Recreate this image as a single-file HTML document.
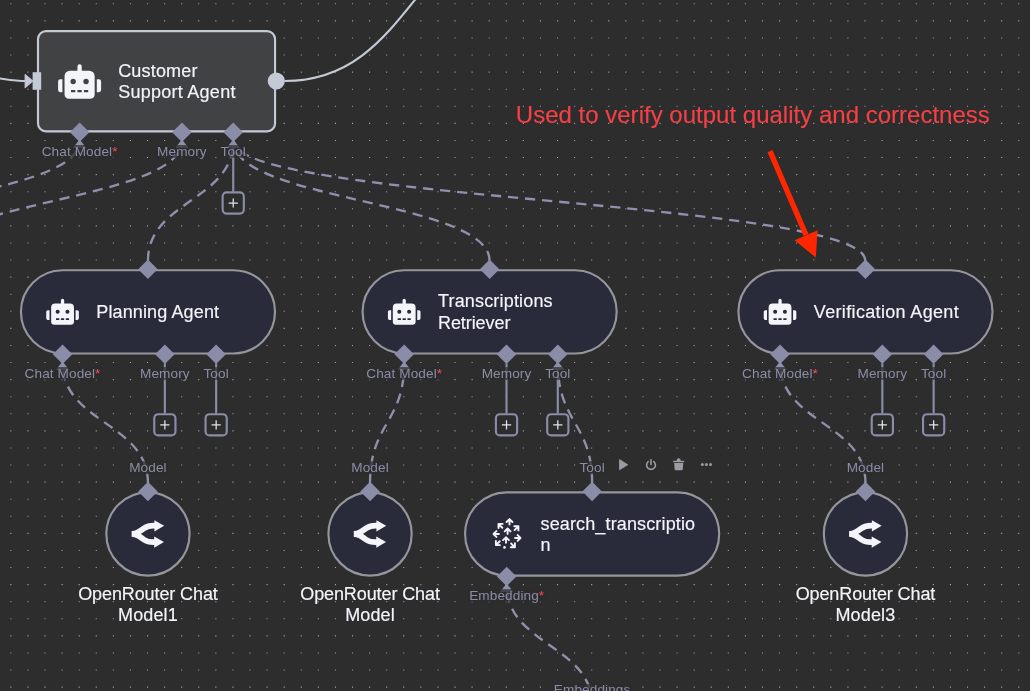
<!DOCTYPE html>
<html lang="en"><head><meta charset="utf-8"><title>Customer Support Agent workflow</title>
<style>
html,body{margin:0;padding:0;background:#2d2d2e;}
body{width:1030px;height:691px;overflow:hidden;}
svg{display:block;font-family:"Liberation Sans", sans-serif;}
</style></head><body>
<svg width="1030" height="691" viewBox="0 0 1030 691">
<defs><filter id="aa" filterUnits="userSpaceOnUse" x="0" y="0" width="1030" height="691" color-interpolation-filters="sRGB"><feOffset dx="0" dy="0"/></filter></defs>
<rect width="1030" height="691" fill="#2d2d2e"/>
<path stroke="#a3a4aa" stroke-width="1.1" stroke-dasharray="1.1 15.983" fill="none" d="M10.31 3.80H1030M10.31 20.88H1030M10.31 37.97H1030M10.31 55.05H1030M10.31 72.13H1030M10.31 89.21H1030M10.31 106.30H1030M10.31 123.38H1030M10.31 140.46H1030M10.31 157.55H1030M10.31 174.63H1030M10.31 191.71H1030M10.31 208.80H1030M10.31 225.88H1030M10.31 242.96H1030M10.31 260.05H1030M10.31 277.13H1030M10.31 294.21H1030M10.31 311.29H1030M10.31 328.38H1030M10.31 345.46H1030M10.31 362.54H1030M10.31 379.63H1030M10.31 396.71H1030M10.31 413.79H1030M10.31 430.87H1030M10.31 447.96H1030M10.31 465.04H1030M10.31 482.12H1030M10.31 499.21H1030M10.31 516.29H1030M10.31 533.37H1030M10.31 550.46H1030M10.31 567.54H1030M10.31 584.62H1030M10.31 601.70H1030M10.31 618.79H1030M10.31 635.87H1030M10.31 652.95H1030M10.31 670.04H1030M10.31 687.12H1030"/>

<path d="M-20 76.5C0 77.5 10 81 26 81" fill="none" stroke="#c3c9d5" stroke-width="2.14"/>
<path d="M284.5 81C415.15 81 415.15 -81.7 545.8 -81.7" fill="none" stroke="#c3c9d5" stroke-width="2.14"/>
<path d="M-210.78 260.86C-210.78 200.83 79.63 200.83 79.63 140.80" fill="none" stroke="#8f90ab" stroke-width="2.35" stroke-dasharray="10.2 6.883" stroke-dashoffset="0"/>
<path d="M-74.11 260.86C-74.11 200.83 181.93 200.83 181.93 140.80" fill="none" stroke="#8f90ab" stroke-width="2.35" stroke-dasharray="10.2 6.883" stroke-dashoffset="0"/>
<path d="M147.95 260.86C147.95 200.83 233.23 200.83 233.23 140.80" fill="none" stroke="#8f90ab" stroke-width="2.35" stroke-dasharray="10.2 6.883" stroke-dashoffset="0"/>
<path d="M489.61 260.86C489.61 200.83 233.23 200.83 233.23 140.80" fill="none" stroke="#8f90ab" stroke-width="2.35" stroke-dasharray="10.2 6.883" stroke-dashoffset="0"/>
<path d="M865.44 260.86C865.44 200.83 233.23 200.83 233.23 140.80" fill="none" stroke="#8f90ab" stroke-width="2.35" stroke-dasharray="10.2 6.883" stroke-dashoffset="0"/>
<path d="M147.96 482.94C147.96 422.90 62.55 422.90 62.55 362.86" fill="none" stroke="#8f90ab" stroke-width="2.35" stroke-dasharray="10.2 6.883" stroke-dashoffset="0"/>
<path d="M370.04 482.94C370.04 422.90 404.21 422.90 404.21 362.86" fill="none" stroke="#8f90ab" stroke-width="2.35" stroke-dasharray="10.2 6.883" stroke-dashoffset="0"/>
<path d="M592.11 482.94C592.11 422.90 557.81 422.90 557.81 362.86" fill="none" stroke="#8f90ab" stroke-width="2.35" stroke-dasharray="10.2 6.883" stroke-dashoffset="0"/>
<path d="M865.45 482.94C865.45 422.90 780.04 422.90 780.04 362.86" fill="none" stroke="#8f90ab" stroke-width="2.35" stroke-dasharray="10.2 6.883" stroke-dashoffset="0"/>
<path d="M592.12 705.02C592.12 644.98 506.71 644.98 506.71 584.94" fill="none" stroke="#8f90ab" stroke-width="2.35" stroke-dasharray="10.2 6.883" stroke-dashoffset="0"/>
<rect x="38.00" y="31.07" width="237.06" height="100.36" rx="8" fill="#414244" stroke="#c3c9d5" stroke-width="2.14"/>
<path d="M25.2 74.6L32.6 81L25.2 87.6Z" fill="#c3c9d5" stroke="#c3c9d5" stroke-width="1.2" stroke-linejoin="round"/>
<rect x="32.6" y="72.2" width="8.6" height="17.6" fill="#c3c9d5"/>
<circle cx="276.3" cy="81" r="8.6" fill="#c3c9d5"/>
<path transform="translate(58.10 64.30) scale(0.06719)" d="M32,224H64V416H32A31.96166,31.96166,0,0,1,0,384V256A31.96166,31.96166,0,0,1,32,224Zm512-48V448a64.06328,64.06328,0,0,1-64,64H160a64.06328,64.06328,0,0,1-64-64V176a79.974,79.974,0,0,1,80-80H288V32a32,32,0,0,1,64,0V96H464A79.974,79.974,0,0,1,544,176ZM264,256a40,40,0,1,0-40,40A39.997,39.997,0,0,0,264,256Zm-8,128H192v32h64Zm96,0H288v32h64ZM456,256a40,40,0,1,0-40,40A39.997,39.997,0,0,0,456,256Zm-8,128H384v32h64ZM640,256V384a31.96166,31.96166,0,0,1-32,32H576V224h32A31.96166,31.96166,0,0,1,640,256Z" fill="#f4f5fb"/>
<path d="M79.63 122.50L89.38 132.25L79.63 142.00L69.88 132.25Z" fill="#8b8ca8"/>
<path d="M79.63 139.45L86.23 147.65H73.03Z" fill="#8f90ab"/>
<path d="M181.93 122.50L191.68 132.25L181.93 142.00L172.18 132.25Z" fill="#8b8ca8"/>
<path d="M181.93 139.45L188.53 147.65H175.33Z" fill="#8f90ab"/>
<path d="M233.23 122.50L242.98 132.25L233.23 142.00L223.48 132.25Z" fill="#8b8ca8"/>
<path d="M233.23 139.45L239.83 147.65H226.63Z" fill="#8f90ab"/>
<path d="M233.23 141.25V191.40" stroke="#8b8ca8" stroke-width="2.14" fill="none"/>
<rect x="222.63" y="192.40" width="21.2" height="21.2" rx="4" fill="#2d2d2e" stroke="#8b8ca8" stroke-width="2.14"/>
<path d="M228.63 203.00H237.83M233.23 198.40V207.60" stroke="#e4e5ec" stroke-width="1.25" fill="none"/>
<rect x="40.63" y="145.00" width="78.00" height="12.8" fill="#2d2d2e" fill-opacity="0.72"/>
<rect x="155.68" y="145.00" width="52.50" height="12.8" fill="#2d2d2e" fill-opacity="0.72"/>
<rect x="219.23" y="145.00" width="28.00" height="12.8" fill="#2d2d2e" fill-opacity="0.72"/>
<rect x="20.92" y="270.23" width="254.11" height="83.26" rx="41.63" fill="#292b3a" stroke="#95969c" stroke-width="2.14"/>
<path transform="translate(46.25 298.72) scale(0.05094)" d="M32,224H64V416H32A31.96166,31.96166,0,0,1,0,384V256A31.96166,31.96166,0,0,1,32,224Zm512-48V448a64.06328,64.06328,0,0,1-64,64H160a64.06328,64.06328,0,0,1-64-64V176a79.974,79.974,0,0,1,80-80H288V32a32,32,0,0,1,64,0V96H464A79.974,79.974,0,0,1,544,176ZM264,256a40,40,0,1,0-40,40A39.997,39.997,0,0,0,264,256Zm-8,128H192v32h64Zm96,0H288v32h64ZM456,256a40,40,0,1,0-40,40A39.997,39.997,0,0,0,456,256Zm-8,128H384v32h64ZM640,256V384a31.96166,31.96166,0,0,1-32,32H576V224h32A31.96166,31.96166,0,0,1,640,256Z" fill="#f4f5fb"/>
<path d="M147.95 259.61L157.70 269.36L147.95 279.11L138.20 269.36Z" fill="#8b8ca8"/>
<path d="M62.55 344.56L72.30 354.31L62.55 364.06L52.80 354.31Z" fill="#8b8ca8"/>
<path d="M164.85 344.56L174.60 354.31L164.85 364.06L155.10 354.31Z" fill="#8b8ca8"/>
<path d="M216.15 344.56L225.90 354.31L216.15 364.06L206.40 354.31Z" fill="#8b8ca8"/>
<path d="M62.55 361.51L69.15 369.71H55.95Z" fill="#8f90ab"/>
<path d="M164.85 363.31V413.20" stroke="#8b8ca8" stroke-width="2.14" fill="none"/>
<rect x="154.25" y="414.20" width="21.2" height="21.2" rx="4" fill="#2d2d2e" stroke="#8b8ca8" stroke-width="2.14"/>
<path d="M160.25 424.80H169.45M164.85 420.20V429.40" stroke="#e4e5ec" stroke-width="1.25" fill="none"/>
<path d="M216.15 363.31V413.20" stroke="#8b8ca8" stroke-width="2.14" fill="none"/>
<rect x="205.55" y="414.20" width="21.2" height="21.2" rx="4" fill="#2d2d2e" stroke="#8b8ca8" stroke-width="2.14"/>
<path d="M211.55 424.80H220.75M216.15 420.20V429.40" stroke="#e4e5ec" stroke-width="1.25" fill="none"/>
<rect x="23.55" y="367.06" width="78.00" height="12.8" fill="#2d2d2e" fill-opacity="0.72"/>
<rect x="138.60" y="367.06" width="52.50" height="12.8" fill="#2d2d2e" fill-opacity="0.72"/>
<rect x="202.15" y="367.06" width="28.00" height="12.8" fill="#2d2d2e" fill-opacity="0.72"/>
<rect x="362.58" y="270.23" width="254.11" height="83.26" rx="41.63" fill="#292b3a" stroke="#95969c" stroke-width="2.14"/>
<path transform="translate(387.91 298.72) scale(0.05094)" d="M32,224H64V416H32A31.96166,31.96166,0,0,1,0,384V256A31.96166,31.96166,0,0,1,32,224Zm512-48V448a64.06328,64.06328,0,0,1-64,64H160a64.06328,64.06328,0,0,1-64-64V176a79.974,79.974,0,0,1,80-80H288V32a32,32,0,0,1,64,0V96H464A79.974,79.974,0,0,1,544,176ZM264,256a40,40,0,1,0-40,40A39.997,39.997,0,0,0,264,256Zm-8,128H192v32h64Zm96,0H288v32h64ZM456,256a40,40,0,1,0-40,40A39.997,39.997,0,0,0,456,256Zm-8,128H384v32h64ZM640,256V384a31.96166,31.96166,0,0,1-32,32H576V224h32A31.96166,31.96166,0,0,1,640,256Z" fill="#f4f5fb"/>
<path d="M489.61 259.61L499.36 269.36L489.61 279.11L479.86 269.36Z" fill="#8b8ca8"/>
<path d="M404.21 344.56L413.96 354.31L404.21 364.06L394.46 354.31Z" fill="#8b8ca8"/>
<path d="M506.51 344.56L516.26 354.31L506.51 364.06L496.76 354.31Z" fill="#8b8ca8"/>
<path d="M557.81 344.56L567.56 354.31L557.81 364.06L548.06 354.31Z" fill="#8b8ca8"/>
<path d="M404.21 361.51L410.81 369.71H397.61Z" fill="#8f90ab"/>
<path d="M557.81 361.51L564.41 369.71H551.21Z" fill="#8f90ab"/>
<path d="M506.51 363.31V413.20" stroke="#8b8ca8" stroke-width="2.14" fill="none"/>
<rect x="495.91" y="414.20" width="21.2" height="21.2" rx="4" fill="#2d2d2e" stroke="#8b8ca8" stroke-width="2.14"/>
<path d="M501.91 424.80H511.11M506.51 420.20V429.40" stroke="#e4e5ec" stroke-width="1.25" fill="none"/>
<path d="M557.81 363.31V413.20" stroke="#8b8ca8" stroke-width="2.14" fill="none"/>
<rect x="547.21" y="414.20" width="21.2" height="21.2" rx="4" fill="#2d2d2e" stroke="#8b8ca8" stroke-width="2.14"/>
<path d="M553.21 424.80H562.41M557.81 420.20V429.40" stroke="#e4e5ec" stroke-width="1.25" fill="none"/>
<rect x="365.21" y="367.06" width="78.00" height="12.8" fill="#2d2d2e" fill-opacity="0.72"/>
<rect x="480.26" y="367.06" width="52.50" height="12.8" fill="#2d2d2e" fill-opacity="0.72"/>
<rect x="543.81" y="367.06" width="28.00" height="12.8" fill="#2d2d2e" fill-opacity="0.72"/>
<rect x="738.41" y="270.23" width="254.11" height="83.26" rx="41.63" fill="#292b3a" stroke="#95969c" stroke-width="2.14"/>
<path transform="translate(763.74 298.72) scale(0.05094)" d="M32,224H64V416H32A31.96166,31.96166,0,0,1,0,384V256A31.96166,31.96166,0,0,1,32,224Zm512-48V448a64.06328,64.06328,0,0,1-64,64H160a64.06328,64.06328,0,0,1-64-64V176a79.974,79.974,0,0,1,80-80H288V32a32,32,0,0,1,64,0V96H464A79.974,79.974,0,0,1,544,176ZM264,256a40,40,0,1,0-40,40A39.997,39.997,0,0,0,264,256Zm-8,128H192v32h64Zm96,0H288v32h64ZM456,256a40,40,0,1,0-40,40A39.997,39.997,0,0,0,456,256Zm-8,128H384v32h64ZM640,256V384a31.96166,31.96166,0,0,1-32,32H576V224h32A31.96166,31.96166,0,0,1,640,256Z" fill="#f4f5fb"/>
<path d="M865.44 259.61L875.19 269.36L865.44 279.11L855.69 269.36Z" fill="#8b8ca8"/>
<path d="M780.04 344.56L789.79 354.31L780.04 364.06L770.29 354.31Z" fill="#8b8ca8"/>
<path d="M882.34 344.56L892.09 354.31L882.34 364.06L872.59 354.31Z" fill="#8b8ca8"/>
<path d="M933.64 344.56L943.39 354.31L933.64 364.06L923.89 354.31Z" fill="#8b8ca8"/>
<path d="M780.04 361.51L786.64 369.71H773.44Z" fill="#8f90ab"/>
<path d="M882.34 363.31V413.20" stroke="#8b8ca8" stroke-width="2.14" fill="none"/>
<rect x="871.74" y="414.20" width="21.2" height="21.2" rx="4" fill="#2d2d2e" stroke="#8b8ca8" stroke-width="2.14"/>
<path d="M877.74 424.80H886.94M882.34 420.20V429.40" stroke="#e4e5ec" stroke-width="1.25" fill="none"/>
<path d="M933.64 363.31V413.20" stroke="#8b8ca8" stroke-width="2.14" fill="none"/>
<rect x="923.04" y="414.20" width="21.2" height="21.2" rx="4" fill="#2d2d2e" stroke="#8b8ca8" stroke-width="2.14"/>
<path d="M929.04 424.80H938.24M933.64 420.20V429.40" stroke="#e4e5ec" stroke-width="1.25" fill="none"/>
<rect x="741.04" y="367.06" width="78.00" height="12.8" fill="#2d2d2e" fill-opacity="0.72"/>
<rect x="856.09" y="367.06" width="52.50" height="12.8" fill="#2d2d2e" fill-opacity="0.72"/>
<rect x="919.64" y="367.06" width="28.00" height="12.8" fill="#2d2d2e" fill-opacity="0.72"/>
<circle cx="147.96" cy="533.94" r="41.63" fill="#292b3a" stroke="#95969c" stroke-width="2.14"/>
<g transform="translate(131.71 518.14) scale(0.06348)" fill="#f4f5fb" stroke="#f4f5fb"><path d="M3 248.945C18 248.945 76 236 106 219C136 202 136 202 198 158C276.497 102.293 332 120.945 423 120.945" stroke-width="90" fill="none"/><path d="M511 121.5L357.25 210.268L357.25 32.7324L511 121.5Z" stroke="none"/><path d="M0 249C15 249 73 261.945 103 278.945C133 295.945 133 295.945 195 339.945C273.497 395.652 329 377 420 377" stroke-width="90" fill="none"/><path d="M508 376.445L354.25 287.678L354.25 465.213L508 376.445Z" stroke="none"/></g>
<path d="M147.96 481.69L157.71 491.44L147.96 501.19L138.21 491.44Z" fill="#8b8ca8"/>
<rect x="127.96" y="461.30" width="40.00" height="12.8" fill="#2d2d2e" fill-opacity="0.72"/>
<circle cx="370.04" cy="533.94" r="41.63" fill="#292b3a" stroke="#95969c" stroke-width="2.14"/>
<g transform="translate(353.79 518.14) scale(0.06348)" fill="#f4f5fb" stroke="#f4f5fb"><path d="M3 248.945C18 248.945 76 236 106 219C136 202 136 202 198 158C276.497 102.293 332 120.945 423 120.945" stroke-width="90" fill="none"/><path d="M511 121.5L357.25 210.268L357.25 32.7324L511 121.5Z" stroke="none"/><path d="M0 249C15 249 73 261.945 103 278.945C133 295.945 133 295.945 195 339.945C273.497 395.652 329 377 420 377" stroke-width="90" fill="none"/><path d="M508 376.445L354.25 287.678L354.25 465.213L508 376.445Z" stroke="none"/></g>
<path d="M370.04 481.69L379.79 491.44L370.04 501.19L360.29 491.44Z" fill="#8b8ca8"/>
<rect x="350.04" y="461.30" width="40.00" height="12.8" fill="#2d2d2e" fill-opacity="0.72"/>
<circle cx="865.45" cy="533.94" r="41.63" fill="#292b3a" stroke="#95969c" stroke-width="2.14"/>
<g transform="translate(849.20 518.14) scale(0.06348)" fill="#f4f5fb" stroke="#f4f5fb"><path d="M3 248.945C18 248.945 76 236 106 219C136 202 136 202 198 158C276.497 102.293 332 120.945 423 120.945" stroke-width="90" fill="none"/><path d="M511 121.5L357.25 210.268L357.25 32.7324L511 121.5Z" stroke="none"/><path d="M0 249C15 249 73 261.945 103 278.945C133 295.945 133 295.945 195 339.945C273.497 395.652 329 377 420 377" stroke-width="90" fill="none"/><path d="M508 376.445L354.25 287.678L354.25 465.213L508 376.445Z" stroke="none"/></g>
<path d="M865.45 481.69L875.20 491.44L865.45 501.19L855.70 491.44Z" fill="#8b8ca8"/>
<rect x="845.45" y="461.30" width="40.00" height="12.8" fill="#2d2d2e" fill-opacity="0.72"/>
<rect x="465.08" y="492.31" width="254.11" height="83.26" rx="41.63" fill="#292b3a" stroke="#95969c" stroke-width="2.14"/>
<path d="M592.11 481.69L601.86 491.44L592.11 501.19L582.36 491.44Z" fill="#8b8ca8"/>
<path d="M506.71 566.64L516.46 576.39L506.71 586.14L496.96 576.39Z" fill="#8b8ca8"/>
<path d="M506.71 583.59L513.31 591.79H500.11Z" fill="#8f90ab"/>
<rect x="468.21" y="589.14" width="77.00" height="12.8" fill="#2d2d2e" fill-opacity="0.72"/>
<rect x="578.11" y="461.30" width="28.00" height="12.8" fill="#2d2d2e" fill-opacity="0.72"/>
<rect x="552.62" y="684.10" width="79.00" height="12.8" fill="#2d2d2e" fill-opacity="0.72"/>
<path d="M509.50 524.50L509.50 519.10M512.40 522.00L509.50 519.10L506.60 522.00" stroke="#f4f5fb" stroke-width="1.9" fill="none" stroke-linecap="round" stroke-linejoin="round"/>
<path d="M502.31 527.71L498.49 523.89M502.59 523.89L498.49 523.89L498.49 527.99" stroke="#f4f5fb" stroke-width="1.9" fill="none" stroke-linecap="round" stroke-linejoin="round"/>
<path d="M514.59 530.11L518.41 526.29M518.41 530.39L518.41 526.29L514.31 526.29" stroke="#f4f5fb" stroke-width="1.9" fill="none" stroke-linecap="round" stroke-linejoin="round"/>
<path d="M507.60 533.90L507.60 528.50M510.50 531.40L507.60 528.50L504.70 531.40" stroke="#f4f5fb" stroke-width="1.9" fill="none" stroke-linecap="round" stroke-linejoin="round"/>
<path d="M498.90 534.00L493.50 534.00M496.40 531.10L493.50 534.00L496.40 536.90" stroke="#f4f5fb" stroke-width="1.9" fill="none" stroke-linecap="round" stroke-linejoin="round"/>
<path d="M515.10 538.00L520.50 538.00M517.60 540.90L520.50 538.00L517.60 535.10" stroke="#f4f5fb" stroke-width="1.9" fill="none" stroke-linecap="round" stroke-linejoin="round"/>
<path d="M506.00 542.70L506.00 537.30M508.90 540.20L506.00 537.30L503.10 540.20" stroke="#f4f5fb" stroke-width="1.9" fill="none" stroke-linecap="round" stroke-linejoin="round"/>
<path d="M499.71 541.29L495.89 545.11M495.89 541.01L495.89 545.11L499.99 545.11" stroke="#f4f5fb" stroke-width="1.9" fill="none" stroke-linecap="round" stroke-linejoin="round"/>
<path d="M511.09 543.49L514.91 547.31M510.81 547.31L514.91 547.31L514.91 543.21" stroke="#f4f5fb" stroke-width="1.9" fill="none" stroke-linecap="round" stroke-linejoin="round"/>
<circle cx="504.5" cy="547.4" r="1.3" fill="#f4f5fb"/>
<rect x="606" y="452" width="114.3" height="26" fill="#2d2d2e"/>
<path d="M619.5 459.6L627.8 464.7L619.5 469.8Z" fill="#9a9ba3" stroke="#9a9ba3" stroke-width="0.8" stroke-linejoin="round"/>
<path d="M648.2 461.6A4.4 4.4 0 1 0 653.8 461.6" fill="none" stroke="#9a9ba3" stroke-width="1.6" stroke-linecap="round"/><path d="M651 459.7V464.6" stroke="#9a9ba3" stroke-width="1.6" stroke-linecap="round"/>
<path d="M673.2 460.7H684.2V462.3H673.2ZM676.7 460.7Q676.7 458.3 678.7 458.3Q680.7 458.3 680.7 460.7ZM674.2 463H683.2L682.8 469.2Q682.7 470.3 681.6 470.3H675.8Q674.7 470.3 674.6 469.2Z" fill="#9a9ba3"/>
<circle cx="702.30" cy="464.5" r="1.5" fill="#9a9ba3"/>
<circle cx="706.40" cy="464.5" r="1.5" fill="#9a9ba3"/>
<circle cx="710.50" cy="464.5" r="1.5" fill="#9a9ba3"/>
<path d="M770 151.1L806 235" stroke="#ff2600" stroke-width="5.4" fill="none"/>
<path d="M815.8 257.6L794.7 240.3L817.6 230.2Z" fill="#ff2600"/>
<g filter="url(#aa)">
<text x="118.20" y="76.90" font-size="18" fill="#f4f5fb" text-anchor="start" letter-spacing="0.17" stroke="#f4f5fb" stroke-width="0.16">Customer</text>
<text x="118.20" y="98.30" font-size="18" fill="#f4f5fb" text-anchor="start" letter-spacing="0.26" stroke="#f4f5fb" stroke-width="0.16">Support Agent</text>
<text x="79.63" y="156.10" font-size="13.6" fill="#8b8ca6" text-anchor="middle" letter-spacing="0.1">Chat Model<tspan fill="#ff4d4f">*</tspan></text>
<text x="181.93" y="156.10" font-size="13.6" fill="#8b8ca6" text-anchor="middle" letter-spacing="0.1">Memory</text>
<text x="233.23" y="156.10" font-size="13.6" fill="#8b8ca6" text-anchor="middle" letter-spacing="0.1">Tool</text>
<text x="96.35" y="318.26" font-size="18" fill="#f4f5fb" text-anchor="start" letter-spacing="0.12" stroke="#f4f5fb" stroke-width="0.16">Planning Agent</text>
<text x="62.55" y="378.16" font-size="13.6" fill="#8b8ca6" text-anchor="middle" letter-spacing="0.1">Chat Model<tspan fill="#ff4d4f">*</tspan></text>
<text x="164.85" y="378.16" font-size="13.6" fill="#8b8ca6" text-anchor="middle" letter-spacing="0.1">Memory</text>
<text x="216.15" y="378.16" font-size="13.6" fill="#8b8ca6" text-anchor="middle" letter-spacing="0.1">Tool</text>
<text x="438.01" y="306.56" font-size="18" fill="#f4f5fb" text-anchor="start" letter-spacing="0.17" stroke="#f4f5fb" stroke-width="0.16">Transcriptions</text>
<text x="438.01" y="328.56" font-size="18" fill="#f4f5fb" text-anchor="start" letter-spacing="-0.08" stroke="#f4f5fb" stroke-width="0.16">Retriever</text>
<text x="404.21" y="378.16" font-size="13.6" fill="#8b8ca6" text-anchor="middle" letter-spacing="0.1">Chat Model<tspan fill="#ff4d4f">*</tspan></text>
<text x="506.51" y="378.16" font-size="13.6" fill="#8b8ca6" text-anchor="middle" letter-spacing="0.1">Memory</text>
<text x="557.81" y="378.16" font-size="13.6" fill="#8b8ca6" text-anchor="middle" letter-spacing="0.1">Tool</text>
<text x="813.84" y="318.26" font-size="18" fill="#f4f5fb" text-anchor="start" letter-spacing="0.34" stroke="#f4f5fb" stroke-width="0.16">Verification Agent</text>
<text x="780.04" y="378.16" font-size="13.6" fill="#8b8ca6" text-anchor="middle" letter-spacing="0.1">Chat Model<tspan fill="#ff4d4f">*</tspan></text>
<text x="882.34" y="378.16" font-size="13.6" fill="#8b8ca6" text-anchor="middle" letter-spacing="0.1">Memory</text>
<text x="933.64" y="378.16" font-size="13.6" fill="#8b8ca6" text-anchor="middle" letter-spacing="0.1">Tool</text>
<text x="147.96" y="471.60" font-size="13.6" fill="#8b8ca6" text-anchor="middle" letter-spacing="0.1">Model</text>
<text x="147.96" y="600.00" font-size="18" fill="#f4f5fb" text-anchor="middle" letter-spacing="-0.1" stroke="#f4f5fb" stroke-width="0.16">OpenRouter Chat</text>
<text x="147.96" y="621.40" font-size="18" fill="#f4f5fb" text-anchor="middle" letter-spacing="0.15" stroke="#f4f5fb" stroke-width="0.16">Model1</text>
<text x="370.04" y="471.60" font-size="13.6" fill="#8b8ca6" text-anchor="middle" letter-spacing="0.1">Model</text>
<text x="370.04" y="600.00" font-size="18" fill="#f4f5fb" text-anchor="middle" letter-spacing="-0.1" stroke="#f4f5fb" stroke-width="0.16">OpenRouter Chat</text>
<text x="370.04" y="621.40" font-size="18" fill="#f4f5fb" text-anchor="middle" letter-spacing="0.1" stroke="#f4f5fb" stroke-width="0.16">Model</text>
<text x="865.45" y="471.60" font-size="13.6" fill="#8b8ca6" text-anchor="middle" letter-spacing="0.1">Model</text>
<text x="865.45" y="600.00" font-size="18" fill="#f4f5fb" text-anchor="middle" letter-spacing="-0.1" stroke="#f4f5fb" stroke-width="0.16">OpenRouter Chat</text>
<text x="865.45" y="621.40" font-size="18" fill="#f4f5fb" text-anchor="middle" letter-spacing="0.15" stroke="#f4f5fb" stroke-width="0.16">Model3</text>
<text x="540.51" y="530.00" font-size="18" fill="#f4f5fb" text-anchor="start" letter-spacing="0.14" stroke="#f4f5fb" stroke-width="0.16">search_transcriptio</text>
<text x="540.51" y="551.40" font-size="18" fill="#f4f5fb" text-anchor="start" letter-spacing="0" stroke="#f4f5fb" stroke-width="0.16">n</text>
<text x="506.71" y="600.24" font-size="13.6" fill="#8b8ca6" text-anchor="middle" letter-spacing="0.1">Embedding<tspan fill="#ff4d4f">*</tspan></text>
<text x="592.11" y="471.60" font-size="13.6" fill="#8b8ca6" text-anchor="middle" letter-spacing="0.1">Tool</text>
<text x="592.12" y="694.40" font-size="13.6" fill="#8b8ca6" text-anchor="middle" letter-spacing="0.1">Embeddings</text>
<text x="515.80" y="122.70" font-size="24" fill="#f54145" text-anchor="start" letter-spacing="0.01" stroke="#f54145" stroke-width="0.15">Used to verify output quality and correctness</text>
</g>
</svg>
</body></html>
